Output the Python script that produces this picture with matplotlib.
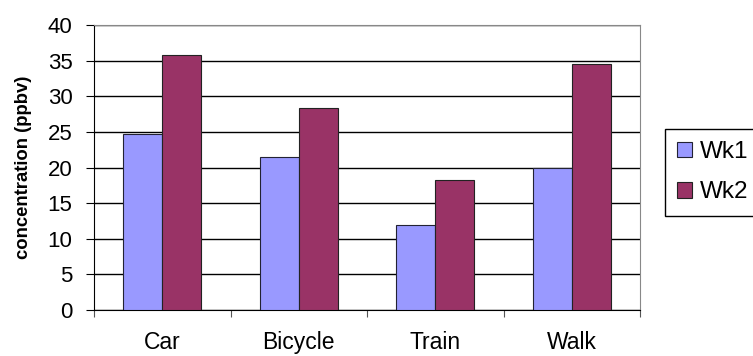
import numpy as np
import matplotlib
matplotlib.use("Agg")
import matplotlib.pyplot as plt

plt.rcParams['font.family'] = ['Liberation Sans', 'DejaVu Sans']

categories = ["Car", "Bicycle", "Train", "Walk"]
wk1 = [24.7, 21.5, 12.0, 19.9]
wk2 = [35.8, 28.3, 18.2, 34.5]

fig = plt.figure(figsize=(7.53, 3.56), dpi=100)
ax = fig.add_axes([94 / 753, 46 / 356, 546 / 753, 285 / 356])

x = np.arange(len(categories))
w = 1 / 3.5
b1 = ax.bar(x - w / 2, wk1, w, color="#9999FF", edgecolor="#222233", linewidth=0.8,
            label="Wk1", zorder=3)
b2 = ax.bar(x + w / 2, wk2, w, color="#993366", edgecolor="#222222", linewidth=0.8,
            label="Wk2", zorder=3)

ax.set_xlim(-0.5, len(categories) - 0.5)
ax.set_ylim(0, 40)
ax.set_yticks(range(0, 41, 5))
ax.yaxis.grid(True, color="black", linewidth=1, zorder=0)
ax.set_axisbelow(True)

# category labels centred, ticks on the boundaries
ax.set_xticks(np.arange(-0.5, len(categories), 1))
ax.set_xticklabels([])
ax.set_xticks(x, minor=True)
ax.set_xticklabels(categories, minor=True, fontsize=16.5)
ax.tick_params(axis="x", which="minor", length=0, pad=15)
ax.tick_params(axis="x", which="major", length=5, color="#555555")
ax.tick_params(axis="y", length=6, labelsize=16, pad=9.5)

for s in ["top", "right"]:
    ax.spines[s].set_color("#888888")
ax.spines["left"].set_color("black")
ax.spines["bottom"].set_color("black")

ax.set_ylabel("concentration (ppbv)", fontsize=13.3, fontweight="bold", labelpad=11)

fig.legend(handles=[b1, b2], loc="upper left", bbox_to_anchor=(665 / 753, 1 - 129 / 356),
           fontsize=17.5, frameon=True, fancybox=False, edgecolor="black",
           framealpha=1, handlelength=0.62, handleheight=0.62, handletextpad=0.3,
           borderpad=0.5, labelspacing=0.75, borderaxespad=0)

fig.savefig("out.png", dpi=100)
